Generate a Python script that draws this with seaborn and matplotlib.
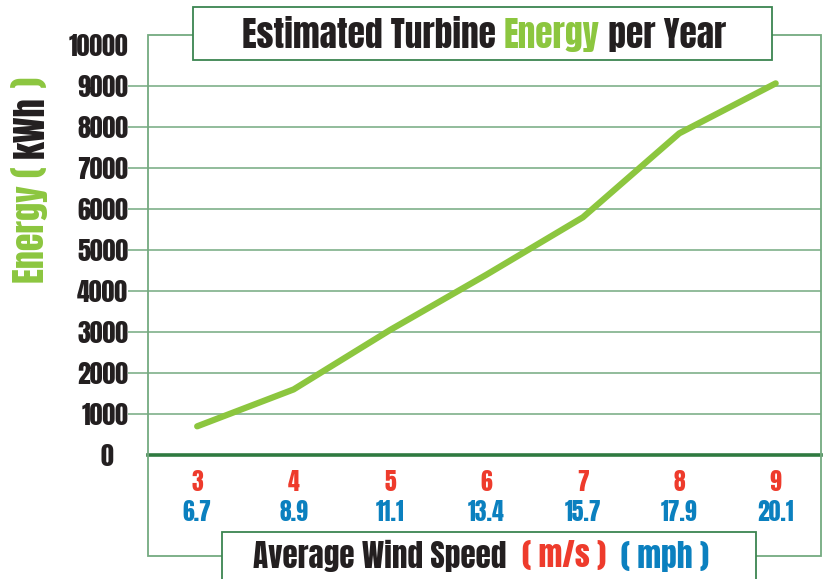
import matplotlib
matplotlib.use("Agg")
import pandas as pd
import seaborn as sns
from matplotlib import pyplot as plt
from matplotlib.patches import Rectangle
from matplotlib.transforms import ScaledTranslation

# data
wind_ms = [3, 4, 5, 6, 7, 8, 9]
wind_mph = ["6.7", "8.9", "11.1", "13.4", "15.7", "17.9", "20.1"]
energy_kwh = [700, 1600, 3050, 4400, 5800, 7850, 9070]
y_ticks = [0, 1000, 2000, 3000, 4000, 5000, 6000, 7000, 8000, 9000, 10000]
grid_levels = [1000, 2000, 3000, 4000, 5000, 6000, 7000, 8000, 9000]

GREEN = "#8cc63f"
RED = "#ee3b2c"
BLUE = "#0b80bf"
DARK = "#231f20"
FRAME = "#74aa80"
BOX = "#3b8550"
ZERO = "#2f7a40"

sns.set_theme(style="white")
plt.rcParams["font.family"] = ["Anton", "DejaVu Sans"]
plt.rcParams["font.weight"] = "normal"

W, H = 826, 579
fig = plt.figure(figsize=(W / 100, H / 100), dpi=100)


def fx(px):
    return px / W


def fy(py):
    return 1 - py / H


# axes: zero line at y=455 px, top of frame at y=35 px
ax = fig.add_axes([fx(148), fy(455), fx(821) - fx(148), fy(35) - fy(455)])
ax.set_xlim(2.49, 9.47)
ax.set_ylim(0, 10250)

df = pd.DataFrame({"speed": wind_ms, "energy": energy_kwh})
sns.lineplot(data=df, x="speed", y="energy", ax=ax, color=GREEN, linewidth=4.5,
             solid_capstyle="round", zorder=5)

# horizontal grid lines, running a little past the left frame
ax.hlines(grid_levels, -20 / 673, 1, transform=ax.get_yaxis_transform(),
          color=FRAME, linewidth=1.1, clip_on=False, zorder=1)

for side in ["left", "right", "top"]:
    ax.spines[side].set_visible(False)
ax.spines["bottom"].set_color(ZERO)
ax.spines["bottom"].set_linewidth(2.6)
ax.spines["bottom"].set_zorder(4)

ax.set_yticks(y_ticks)
ax.set_yticklabels([str(v) for v in y_ticks], fontsize=18.5, color=DARK)
ax.tick_params(axis="y", length=0, pad=14.4)
zero_lbl = ax.get_yticklabels()[0]
zero_lbl.set_transform(zero_lbl.get_transform() + ScaledTranslation(-0.15, 0, fig.dpi_scale_trans))

ax.set_xticks(wind_ms)
ax.set_xticklabels([str(v) for v in wind_ms], fontsize=17, color=RED)
ax.tick_params(axis="x", length=0, pad=10.5)

sec = ax.secondary_xaxis("bottom")
sec.set_xticks(wind_ms)
sec.set_xticklabels(wind_mph, fontsize=17, color=BLUE)
sec.tick_params(axis="x", length=0, pad=32.5)
sec.spines["bottom"].set_visible(False)

ax.set_xlabel("")
ax.set_ylabel("")

# outer frame and label boxes
fig.patches.append(Rectangle((fx(148), fy(556)), fx(821) - fx(148), fy(35) - fy(556),
                             transform=fig.transFigure, fill=False, edgecolor=FRAME,
                             linewidth=1.3, zorder=0.5))
fig.patches.append(Rectangle((fx(193), fy(60)), fx(772) - fx(193), fy(7) - fy(60),
                             transform=fig.transFigure, facecolor="white", edgecolor=BOX,
                             linewidth=1.3, zorder=2))
fig.patches.append(Rectangle((fx(222), fy(600)), fx(756) - fx(222), fy(532) - fy(600),
                             transform=fig.transFigure, facecolor="white", edgecolor=BOX,
                             linewidth=1.3, zorder=2))

renderer = fig.canvas.get_renderer()


def colored_text(pieces, cx, cy, size, rotation=0):
    """Draw a line of differently coloured pieces centred on (cx, cy) in pixels."""
    texts = []
    for s, c in pieces:
        t = fig.text(0, 0, s, color=c, fontsize=size,
                     rotation=rotation, rotation_mode="anchor",
                     ha="left", va="center", zorder=3)
        texts.append(t)
    sizes = []
    for t in texts:
        bb = t.get_window_extent(renderer)
        sizes.append(bb.height if rotation == 90 else bb.width)
    total = sum(sizes)
    if rotation == 90:
        pos = cy + total / 2
        for t, s in zip(texts, sizes):
            t.set_position((fx(cx), fy(pos)))
            pos -= s
    else:
        pos = cx - total / 2
        for t, s in zip(texts, sizes):
            t.set_position((fx(pos), fy(cy)))
            pos += s


colored_text([("Estimated Turbine ", DARK), ("Energy", GREEN), (" per Year", DARK)],
             484, 35, 25.5)
colored_text([("Average Wind Speed  ", DARK), ("( m/s )", RED), ("  ( mph )", BLUE)],
             481, 556, 22.5)
colored_text([("Energy ", GREEN), ("( ", GREEN), ("kWh", DARK), (" )", GREEN)],
             30, 180, 26, rotation=90)

fig.savefig("out.png", dpi=100)
